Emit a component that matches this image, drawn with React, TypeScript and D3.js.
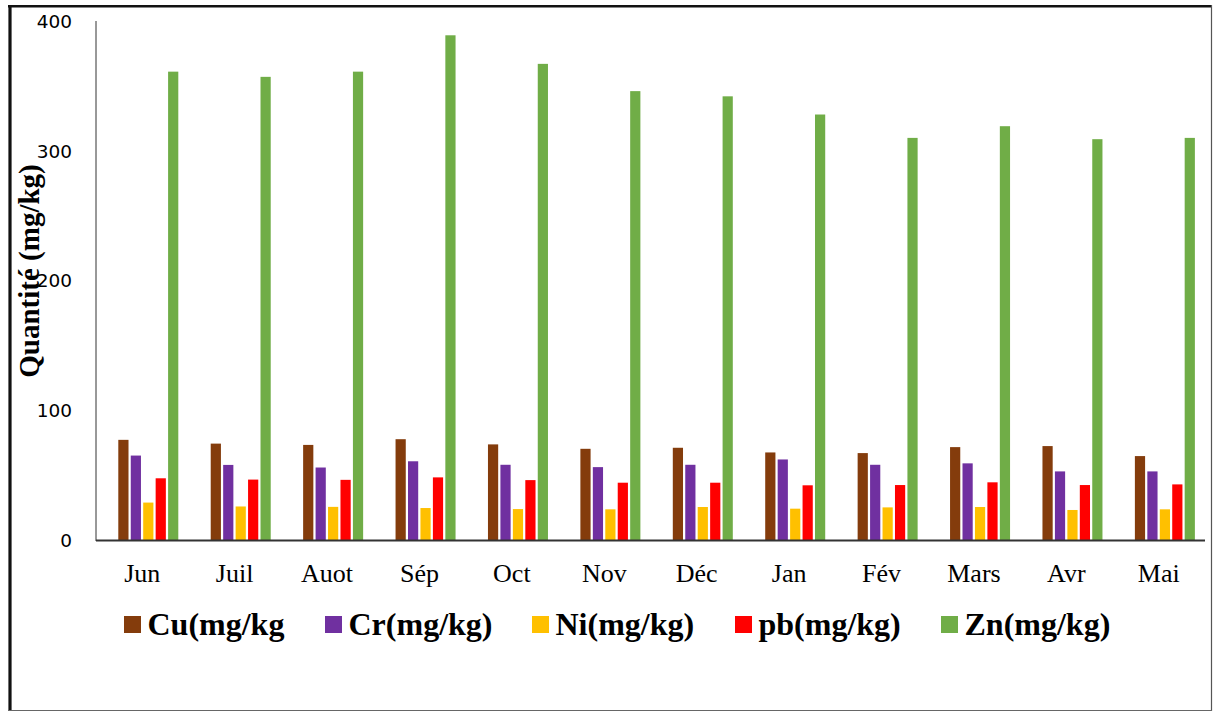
import React, { useEffect, useRef } from 'react';
import * as d3 from 'd3';

const months = ['Jun', 'Juil', 'Auot', 'Sép', 'Oct', 'Nov', 'Déc', 'Jan', 'Fév', 'Mars', 'Avr', 'Mai'];
const seriesNames = ['Cu(mg/kg', 'Cr(mg/kg)', 'Ni(mg/kg)', 'pb(mg/kg)', 'Zn(mg/kg)'];
const seriesColors = ['#843C0C', '#7030A0', '#FFC000', '#FF0000', '#70AD47'];

const cu = [77.5, 74.6, 73.6, 78, 74, 70.6, 71.4, 67.8, 67.3, 71.9, 72.7, 65];
const cr = [65.4, 58.2, 56.2, 61, 58.3, 56.5, 58.3, 62.4, 58.3, 59.4, 53.2, 53.2];
const ni = [29.2, 26.2, 25.9, 25, 24.2, 24, 25.8, 24.5, 25.5, 25.8, 23.5, 24];
const pb = [47.9, 46.9, 46.7, 48.6, 46.5, 44.5, 44.5, 42.5, 42.7, 44.8, 42.7, 43.2];
const zn = [361, 357, 361, 389, 367, 346, 342, 328, 310, 319, 309, 310];

const yTicks = [0, 100, 200, 300, 400];

// legend swatch left edges
const legendX = [124, 325, 532, 735, 941];

const App: React.FC = () => {
  const svgRef = useRef<SVGSVGElement | null>(null);

  useEffect(() => {
    drawChart();
  }, []);

  const drawChart = () => {
    const width = 1213;
    const height = 711;
    const svg = d3.select(svgRef.current);
    svg.selectAll('*').remove();

    const values = [cu, cr, ni, pb, zn];
    const data = months.map((m, i) => ({ month: m, vals: values.map((s) => s[i]) }));

    const x0 = d3.scaleBand().domain(months).range([96, 1205]);
    const x1 = d3.scaleBand<number>().domain(d3.range(seriesNames.length)).range([22.3, 82.3]).paddingInner(0.18);
    const y = d3.scaleLinear().domain([0, 400]).range([540.5, 21]);

    // frame
    svg.append('rect').attr('x', 0).attr('y', 0).attr('width', width).attr('height', height).attr('fill', '#fff');
    svg.append('line').attr('x1', 8).attr('x2', 1212).attr('y1', 6.2).attr('y2', 6.2).attr('stroke', '#111').attr('stroke-width', 2.6);
    svg.append('line').attr('x1', 10).attr('x2', 10).attr('y1', 5).attr('y2', 711).attr('stroke', '#111').attr('stroke-width', 3.2);
    svg.append('line').attr('x1', 1211.5).attr('x2', 1211.5).attr('y1', 5).attr('y2', 711).attr('stroke', '#555').attr('stroke-width', 1.2);
    svg.append('line').attr('x1', 8).attr('x2', 1212).attr('y1', 710.5).attr('y2', 710.5).attr('stroke', '#666').attr('stroke-width', 1);

    // y tick labels
    svg
      .selectAll('.ytick')
      .data(yTicks)
      .enter()
      .append('text')
      .attr('class', 'ytick')
      .attr('x', 72)
      .attr('y', (d) => y(d))
      .attr('dy', '0.36em')
      .attr('text-anchor', 'end')
      .style('font-family', 'DejaVu Sans, sans-serif')
      .style('font-size', '18.5px')
      .attr('fill', '#000')
      .text((d) => d);

    // bars
    const groups = svg
      .selectAll('.grp')
      .data(data)
      .enter()
      .append('g')
      .attr('class', 'grp')
      .attr('transform', (d) => `translate(${x0(d.month)},0)`);

    groups
      .selectAll('rect')
      .data((d) => d.vals.map((v, k) => ({ k, v })))
      .enter()
      .append('rect')
      .attr('x', (d) => x1(d.k)!)
      .attr('width', x1.bandwidth())
      .attr('y', (d) => y(d.v))
      .attr('height', (d) => y(0) - y(d.v))
      .attr('fill', (d) => seriesColors[d.k]);

    // axes lines
    svg.append('line').attr('x1', 96).attr('x2', 96).attr('y1', 21).attr('y2', 541).attr('stroke', '#333').attr('stroke-width', 1);
    svg.append('line').attr('x1', 96).attr('x2', 1205).attr('y1', 540.5).attr('y2', 540.5).attr('stroke', '#333').attr('stroke-width', 1.8);

    // x labels
    svg
      .selectAll('.xlab')
      .data(months)
      .enter()
      .append('text')
      .attr('class', 'xlab')
      .attr('x', (d) => x0(d)! + x0.bandwidth() / 2)
      .attr('y', 582)
      .attr('text-anchor', 'middle')
      .style('font-family', 'Liberation Serif, Times New Roman, serif')
      .style('font-size', '26px')
      .attr('fill', '#000')
      .text((d) => d);

    // y title
    svg
      .append('text')
      .attr('transform', 'translate(39,271) rotate(-90)')
      .attr('text-anchor', 'middle')
      .style('font-family', 'Liberation Serif, Times New Roman, serif')
      .style('font-weight', 'bold')
      .style('font-size', '29px')
      .attr('fill', '#000')
      .text('Quantité (mg/kg)');

    // legend
    const leg = svg
      .selectAll('.leg')
      .data(seriesNames)
      .enter()
      .append('g')
      .attr('class', 'leg')
      .attr('transform', (_d, i) => `translate(${legendX[i]},0)`);
    leg.append('rect').attr('x', 0).attr('y', 616).attr('width', 17).attr('height', 17).attr('fill', (_d, i) => seriesColors[i]);
    leg
      .append('text')
      .attr('x', 23.5)
      .attr('y', 635)
      .style('font-family', 'Liberation Serif, Times New Roman, serif')
      .style('font-weight', 'bold')
      .style('font-size', '32px')
      .attr('fill', '#000')
      .text((d) => d);
  };

  return (
    <div style={{ position: 'absolute', left: 0, top: 0 }}>
      <svg ref={svgRef} width={1213} height={711} style={{ display: 'block' }}></svg>
    </div>
  );
};

export default App;
